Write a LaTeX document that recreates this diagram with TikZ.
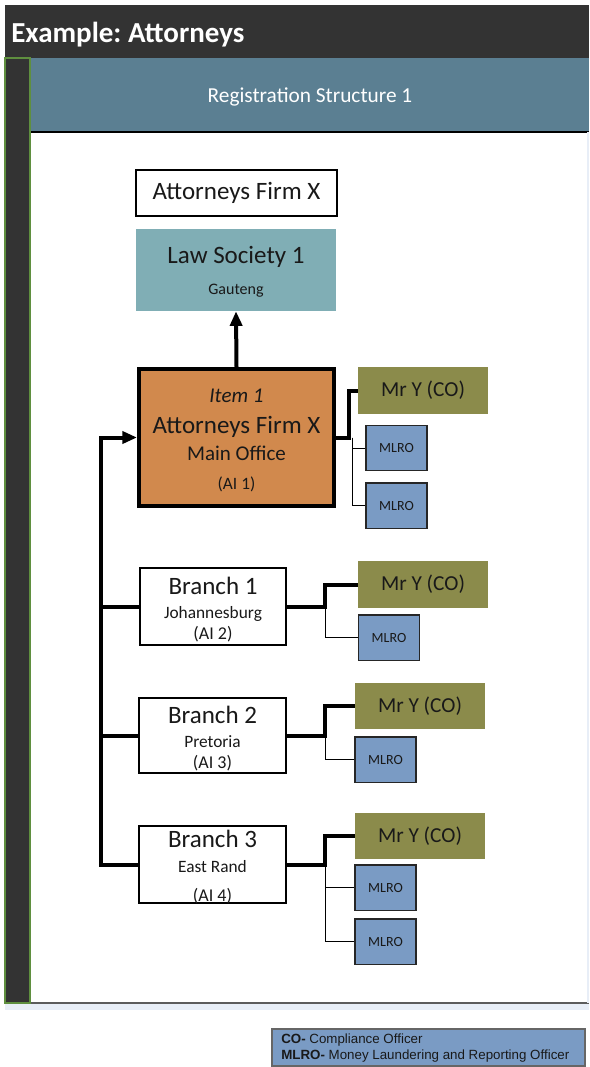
\documentclass[tikz,border=0pt]{standalone}
\usepackage{fontspec}
\setmainfont{Carlito}
\newfontfamily\arialf{Liberation Sans}
\usetikzlibrary{arrows.meta}
\definecolor{darkbar}{HTML}{333333}
\definecolor{bandc}{HTML}{5B7F92}
\definecolor{lawc}{HTML}{80AEB5}
\definecolor{orangec}{HTML}{D1894D}
\definecolor{olivec}{HTML}{8B8B4B}
\definecolor{mlroc}{HTML}{7A9BC4}
\definecolor{greenb}{HTML}{5F8F3F}
\definecolor{stripc}{HTML}{E8EEF7}
\newcommand\fsz[1]{\fontsize{#1}{#1}\selectfont}
\frenchspacing
\begin{document}
\begin{tikzpicture}[x=0.75pt,y=-0.75pt,
  txt/.style={inner sep=0pt,anchor=base,text=black!90},
  boxw/.style={draw=black,line width=0.8pt,fill=white,inner sep=0pt},
  mryc/.style={fill=olivec,inner sep=0pt,minimum width=97.5pt,minimum height=35pt,font=\fsz{16pt},text=black!90},
  mlrob/.style={draw=black!85,line width=1pt,fill=mlroc,inner sep=0pt,minimum width=45.75pt,minimum height=34pt,font=\fsz{10.5pt},text=black!90},
  thk/.style={line width=3pt,line join=miter},
  thn/.style={line width=0.7pt},
  tip/.style={-{Triangle[length=11pt,width=9pt]}}
]
\useasboundingbox (0,0) rectangle (589,1067);
% frame
\fill[darkbar] (5,5) rectangle (589,58);
\fill[bandc] (30,58) rectangle (589,132);
\draw[black,line width=0.9pt] (30,132) -- (589,132);
\fill[stripc] (5,1003) rectangle (589,1010);
\draw[darkbar!80,line width=1.2pt] (30,1003) -- (589,1003);
\draw[greenb,fill=darkbar,line width=0.8pt] (5,58) rectangle (30,1003);
\draw[stripc,line width=1pt] (588,132) -- (588,1003);
\node[inner sep=0pt,anchor=base west,text=white,font=\bfseries\fsz{21.75pt}] (title) at (11,42) {Example: Attorneys};
\node[inner sep=0pt,anchor=base,text=white,font=\fsz{16pt}] (reg) at (310,102) {Registration Structure 1};

% top boxes
\node[boxw,minimum width=150.75pt,minimum height=34.5pt,font=\fsz{18.75pt},text=black!90] (afx) at (236.5,193) {Attorneys Firm X};
\node[fill=lawc,inner sep=0pt,minimum width=150pt,minimum height=61.5pt] (ls) at (236,270) {};
\node[txt,font=\fsz{18.75pt}] (lst) at (236,263) {Law Society 1};
\node[txt,font=\fsz{12pt}] (lsg) at (236,294) {Gauteng};

% main office
\node[draw=black,fill=orangec,line width=3pt,inner sep=0pt,minimum width=146.25pt,minimum height=102.75pt] (mo) at (236.5,437.5) {};
\node[txt,font=\itshape\fsz{15.75pt}] (mot1) at (236.5,402) {Item 1};
\node[txt,font=\fsz{18.75pt}] (mot2) at (236.5,433) {Attorneys Firm X};
\node[txt,font=\fsz{15.75pt}] (mot3) at (236.5,460) {Main Office};
\node[txt,font=\fsz{13pt}] (mot4) at (236.5,489) {(AI 1)};

\node[mryc] (my0) at (423,390.5) {Mr Y (CO)};
\node[mlrob] (ml0a) at (396.5,448) {MLRO};
\node[mlrob] (ml0b) at (396.5,505.5) {MLRO};

% branches
\node[boxw,minimum width=109.5pt,minimum height=57.75pt] (b1) at (213,606.5) {};
\node[txt,font=\fsz{18.75pt}] (b1t) at (213,594) {Branch 1};
\node[txt,font=\fsz{13pt}] (b1c) at (213,618.5) {Johannesburg};
\node[txt,font=\fsz{13.5pt}] (b1a) at (213,639) {(AI 2)};
\node[mryc] (my1) at (423,584.5) {Mr Y (CO)};
\node[mlrob] (ml1) at (389,637.5) {MLRO};

\node[boxw,minimum width=110.25pt,minimum height=56.25pt] (b2) at (212.5,735.5) {};
\node[txt,font=\fsz{18.75pt}] (b2t) at (212.5,723) {Branch 2};
\node[txt,font=\fsz{13pt}] (b2c) at (212.5,747.5) {Pretoria};
\node[txt,font=\fsz{13.5pt}] (b2a) at (212.5,768) {(AI 3)};
\node[mryc] (my2) at (420,706) {Mr Y (CO)};
\node[mlrob] (ml2) at (385.5,759.5) {MLRO};

\node[boxw,minimum width=110.25pt,minimum height=57.75pt] (b3) at (212.5,864.5) {};
\node[txt,font=\fsz{18.75pt}] (b3t) at (212.5,847) {Branch 3};
\node[txt,font=\fsz{13pt}] (b3c) at (212.5,872.5) {East Rand};
\node[txt,font=\fsz{13.5pt}] (b3a) at (212.5,901) {(AI 4)};
\node[mryc] (my3) at (420,836) {Mr Y (CO)};
\node[mlrob] (ml3a) at (385.5,887.5) {MLRO};
\node[mlrob] (ml3b) at (385.5,941.5) {MLRO};

% connectors
\draw[thk,tip] (mo.north) -- (ls.south);
\coordinate (tk) at (101,0);
\draw[thk,tip] (b3.west) -| (tk |- mo.west) -- (mo.west);
\draw[thk] (b1.west) -- (tk |- b1.west);
\draw[thk] (b2.west) -- (tk |- b2.west);

\coordinate (j0) at (352,437.5);
\draw[thn] (j0) |- (ml0a.west);
\draw[thn] (j0) |- (ml0b.west);
\draw[thk] (mo.east) -- (349,437.5) |- (my0.west);

\coordinate (j1) at (325,606.5);
\draw[thn] (j1) |- (ml1.west);
\draw[thk] (b1.east) -- (j1) |- (my1.west);

\coordinate (j2) at (325,735.5);
\draw[thn] (j2) |- (ml2.west);
\draw[thk] (b2.east) -- (j2) |- (my2.west);

\coordinate (j3) at (325,864.5);
\draw[thn] (j3) |- (ml3a.west);
\draw[thn] (j3) |- (ml3b.west);
\draw[thk] (b3.east) -- (j3) |- (my3.west);

% legend
\node[draw=black!60,line width=0.8pt,fill=mlroc,inner sep=0pt,minimum width=234.75pt,minimum height=27.75pt] (leg) at (428.5,1047.5) {};
\node[inner sep=0pt,anchor=base west,font=\arialf\fsz{10pt},text=black!90] (leg1) at (281,1043) {\textbf{CO-} Compliance Officer};
\node[inner sep=0pt,anchor=base west,font=\arialf\fsz{10pt},text=black!90] (leg2) at (281,1059) {\textbf{MLRO-} Money Laundering and Reporting Officer};
\end{tikzpicture}
\end{document}
